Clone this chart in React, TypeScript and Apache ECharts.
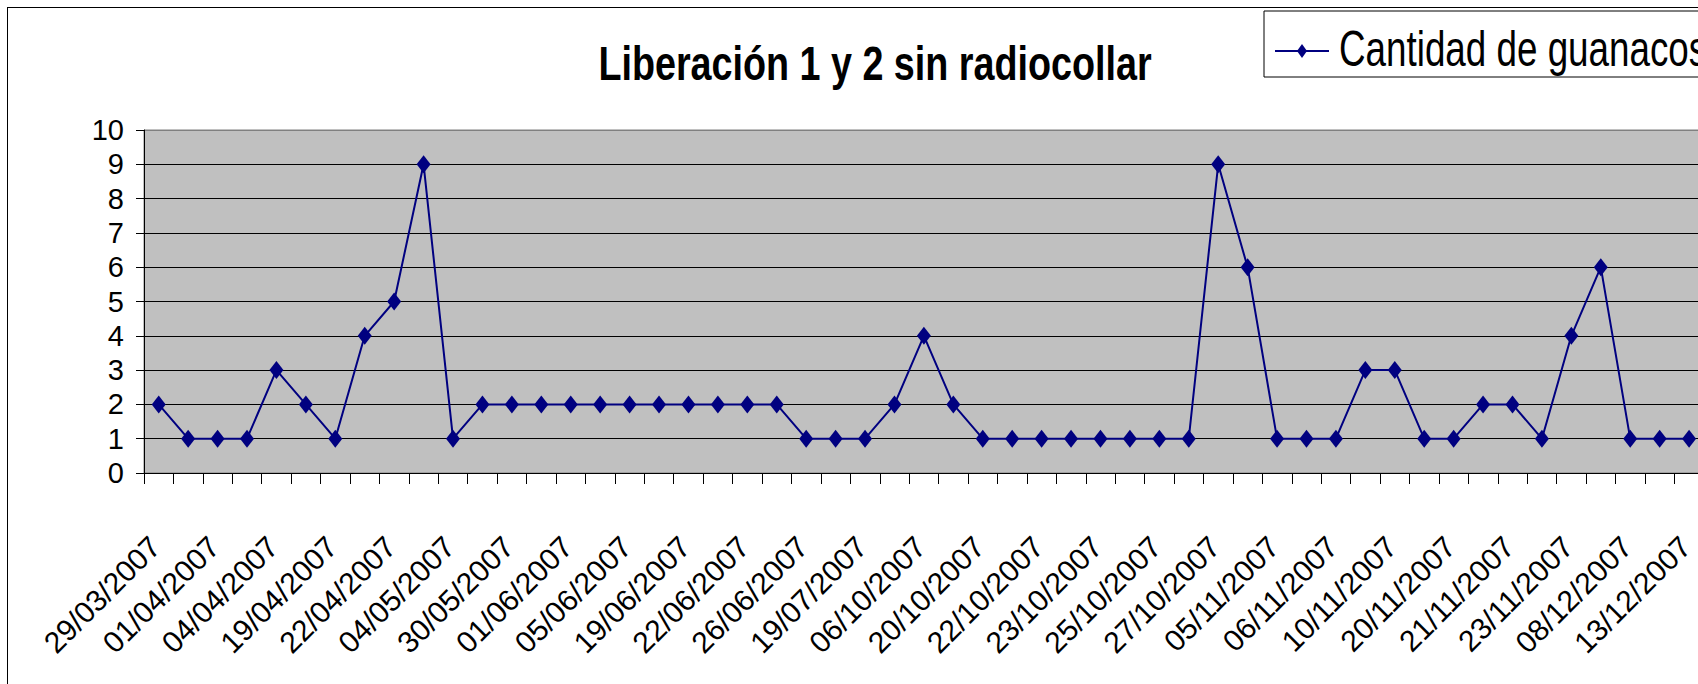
import React, { useEffect, useRef } from "react";
import * as echarts from "echarts";

const FONT = "'Liberation Sans', Arial, sans-serif";

const chartTitle = "Liberación 1 y 2 sin radiocollar";
const seriesName = "Cantidad de guanacos";

const dates = [
  "29/03/2007", "30/03/2007", "01/04/2007", "02/04/2007", "04/04/2007", "11/04/2007",
  "19/04/2007", "20/04/2007", "22/04/2007", "27/04/2007", "04/05/2007", "15/05/2007",
  "30/05/2007", "31/05/2007", "01/06/2007", "03/06/2007", "05/06/2007", "12/06/2007",
  "19/06/2007", "20/06/2007", "22/06/2007", "24/06/2007", "26/06/2007", "05/07/2007",
  "19/07/2007", "20/09/2007", "06/10/2007", "13/10/2007", "20/10/2007", "21/10/2007",
  "22/10/2007", "22/10/2007", "23/10/2007", "24/10/2007", "25/10/2007", "26/10/2007",
  "27/10/2007", "31/10/2007", "05/11/2007", "05/11/2007", "06/11/2007", "08/11/2007",
  "10/11/2007", "15/11/2007", "20/11/2007", "20/11/2007", "21/11/2007", "22/11/2007",
  "23/11/2007", "30/11/2007", "08/12/2007", "10/12/2007", "13/12/2007",
];

const guanacos = [
  2, 1, 1, 1, 3, 2, 1, 4, 5, 9, 1,
  2, 2, 2, 2, 2, 2, 2, 2, 2, 2, 2,
  1, 1, 1, 2, 4, 2,
  1, 1, 1, 1, 1, 1, 1, 1,
  9, 6, 1, 1, 1, 3, 3, 1, 1, 2, 2, 1, 4, 6, 1, 1, 1,
];

const yTicks = [0, 1, 2, 3, 4, 5, 6, 7, 8, 9, 10];

export default function App() {
  const ref = useRef<HTMLDivElement>(null);

  useEffect(() => {
    if (!ref.current) return;
    const chart = echarts.init(ref.current, null, { renderer: "svg" });
    const bandW = 29.43;
    const gridColors = yTicks.map((t) => (t === 10 ? "#808080" : "#000000"));
    chart.setOption({
      animation: false,
      backgroundColor: "#ffffff",
      graphic: [
        {
          type: "text",
          x: 867,
          y: 55,
          scaleX: 0.82,
          scaleY: 1.04,
          style: {
            text: chartTitle,
            fill: "#000",
            font: `bold 46px ${FONT}`,
            textAlign: "center",
            textVerticalAlign: "middle",
          },
        },
        {
          type: "group",
          x: 1256,
          y: 3,
          children: [
            {
              type: "rect",
              shape: { x: 0, y: 0, width: 700, height: 66 },
              style: { fill: "#ffffff", stroke: "#000000", lineWidth: 1 },
            },
            {
              type: "line",
              shape: { x1: 11, y1: 40, x2: 65, y2: 40 },
              style: { stroke: "#000080", lineWidth: 2 },
            },
            {
              type: "polygon",
              shape: { points: [[38, 33], [43, 40], [38, 47], [33, 40]] },
              style: { fill: "#000080" },
            },
            {
              type: "text",
              x: 75,
              y: 37,
              scaleX: 0.8,
              scaleY: 1.1,
              style: {
                text: seriesName,
                fill: "#000",
                font: `46px ${FONT}`,
                textAlign: "left",
                textVerticalAlign: "middle",
              },
            },
          ],
        },
      ],
      grid: {
        left: 136,
        top: 122,
        width: bandW * guanacos.length,
        height: 343,
        show: true,
        backgroundColor: "#C0C0C0",
        borderColor: "#808080",
        borderWidth: 1,
        containLabel: false,
      },
      xAxis: {
        type: "category",
        data: dates,
        boundaryGap: true,
        axisLine: { show: true, lineStyle: { color: "#000", width: 1 } },
        axisTick: { show: true, interval: 0, length: 11, lineStyle: { color: "#000" } },
        axisLabel: {
          interval: 1,
          rotate: 45,
          margin: 65,
          padding: [0, 5, 0, 0],
          fontSize: 30,
          fontFamily: FONT,
          color: "#000",
        },
        splitLine: { show: false },
      },
      yAxis: {
        type: "value",
        min: 0,
        max: 10,
        interval: 1,
        axisLine: { show: true, lineStyle: { color: "#000", width: 1 } },
        axisTick: { show: true, length: 8, lineStyle: { color: "#000" } },
        axisLabel: { margin: 20, fontSize: 29, fontFamily: FONT, color: "#000" },
        splitLine: { show: true, lineStyle: { color: gridColors, width: 1 } },
      },
      series: [
        {
          name: seriesName,
          type: "line",
          data: guanacos,
          color: "#000080",
          symbol: "diamond",
          symbolSize: [14, 18],
          lineStyle: { color: "#000080", width: 2 },
          itemStyle: { color: "#000080" },
        },
      ],
    });
    return () => chart.dispose();
  }, []);

  return (
    <div
      style={{
        position: "fixed",
        left: 0,
        top: 0,
        width: 1698,
        height: 684,
        overflow: "hidden",
        background: "#fff",
      }}
    >
      <div
        style={{
          position: "absolute",
          left: 7,
          top: 7,
          width: 1900,
          height: 900,
          borderLeft: "1px solid #000",
          borderTop: "1px solid #000",
          boxSizing: "border-box",
        }}
      />
      <div
        ref={ref}
        style={{ position: "absolute", left: 8, top: 8, width: 1800, height: 800 }}
      />
    </div>
  );
}
